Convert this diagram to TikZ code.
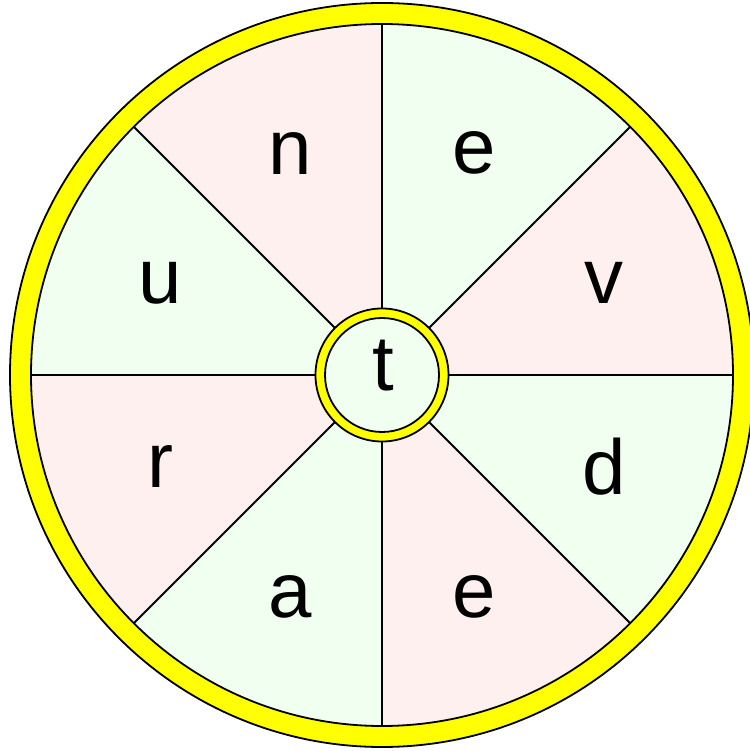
\documentclass[tikz,border=0pt]{standalone}
\usepackage{fontspec}
\setmainfont{Liberation Sans}
\definecolor{pinkfill}{RGB}{255,240,240}
\definecolor{greenfill}{RGB}{240,255,240}
\definecolor{ringyellow}{RGB}{255,255,0}
\begin{document}
\begin{tikzpicture}[x=1pt,y=1pt,
  edge/.style={draw=black,line width=1.8pt},
  letter/.style={inner sep=0pt,font=\fontsize{78}{90}\selectfont}]
\useasboundingbox (-382,-376) rectangle (367,375);
% outer ring
\filldraw[fill=ringyellow,edge] (0,0) circle (372);
% sectors
\foreach \a/\c in {0/pinkfill,45/greenfill,90/pinkfill,135/greenfill,180/pinkfill,225/greenfill,270/pinkfill,315/greenfill}{
  \fill[\c] (0,0) -- (\a:351) arc (\a:\a+45:351) -- cycle;
}
\draw[edge] (0,0) circle (351);
\foreach \a in {0,45,...,315}{
  \draw[edge] (\a:66) -- (\a:351);
}
% center
\filldraw[fill=ringyellow,edge] (0,0) circle (66.5);
\filldraw[fill=greenfill,edge] (0,0) circle (57);
\node[letter] (t) at (1,9) {t};
\node[letter] (n) at (112.5:240) {n};
\node[letter] (e1) at (67.5:240) {e};
\node[letter] (v) at (22.5:240) {v};
\node[letter] (d) at (-22.5:240) {d};
\node[letter] (e2) at (-67.5:240) {e};
\node[letter] (a) at (-112.5:240) {a};
\node[letter] (r) at (-157.5:240) {r};
\node[letter] (u) at (157.5:240) {u};
\end{tikzpicture}
\end{document}
